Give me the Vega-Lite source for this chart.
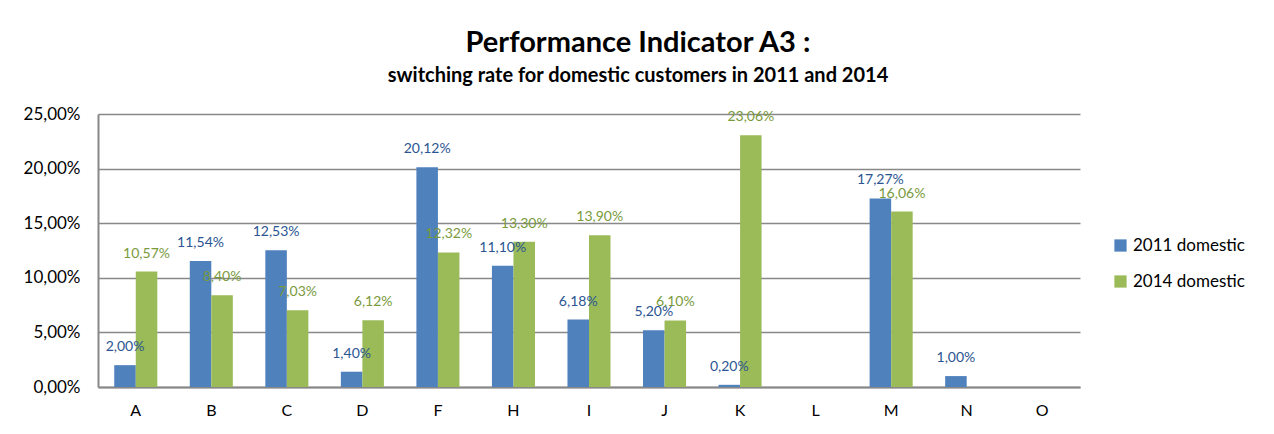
{
  "$schema": "https://vega.github.io/schema/vega-lite/v6.json",
  "autosize": {"type": "none"},
  "width": 982,
  "height": 273,
  "padding": {"left": 98, "top": 114, "right": 194, "bottom": 47},
  "background": "white",
  "config": {
    "locale": {"number": {"decimal": ",", "thousands": ".", "grouping": [3], "currency": ["", " €"]}},
    "font": "Lato",
    "view": {"stroke": null}
  },
  "title": {
    "text": "Performance Indicator A3 :",
    "subtitle": "switching rate for domestic customers in 2011 and 2014",
    "anchor": "middle",
    "dx": 49,
    "offset": 19,
    "font": "Lato",
    "fontSize": 29,
    "fontWeight": "bold",
    "color": "black",
    "subtitleFont": "Lato",
    "subtitleFontSize": 20,
    "subtitleFontWeight": "bold",
    "subtitleColor": "black",
    "subtitlePadding": 8
  },
  "data": {
    "values": [
      {"category": "A", "series": "2011 domestic", "value": 0.0200},
      {"category": "A", "series": "2014 domestic", "value": 0.1057},
      {"category": "B", "series": "2011 domestic", "value": 0.1154},
      {"category": "B", "series": "2014 domestic", "value": 0.0840},
      {"category": "C", "series": "2011 domestic", "value": 0.1253},
      {"category": "C", "series": "2014 domestic", "value": 0.0703},
      {"category": "D", "series": "2011 domestic", "value": 0.0140},
      {"category": "D", "series": "2014 domestic", "value": 0.0612},
      {"category": "F", "series": "2011 domestic", "value": 0.2012},
      {"category": "F", "series": "2014 domestic", "value": 0.1232},
      {"category": "H", "series": "2011 domestic", "value": 0.1110},
      {"category": "H", "series": "2014 domestic", "value": 0.1330},
      {"category": "I", "series": "2011 domestic", "value": 0.0618},
      {"category": "I", "series": "2014 domestic", "value": 0.1390},
      {"category": "J", "series": "2011 domestic", "value": 0.0520},
      {"category": "J", "series": "2014 domestic", "value": 0.0610},
      {"category": "K", "series": "2011 domestic", "value": 0.0020},
      {"category": "K", "series": "2014 domestic", "value": 0.2306},
      {"category": "M", "series": "2011 domestic", "value": 0.1727},
      {"category": "M", "series": "2014 domestic", "value": 0.1606},
      {"category": "N", "series": "2011 domestic", "value": 0.0100}
    ]
  },
  "encoding": {
    "x": {
      "field": "category",
      "type": "nominal",
      "scale": {"domain": ["A","B","C","D","F","H","I","J","K","L","M","N","O"], "paddingInner": 0.43, "paddingOuter": 0.215},
      "axis": {"title": null, "labelAngle": 0, "labelFontSize": 16, "labelColor": "black", "labelFont": "Lato", "ticks": false, "labelPadding": 15, "domainColor": "#888888", "domainWidth": 2}
    },
    "xOffset": {"field": "series", "type": "nominal", "scale": {"domain": ["2011 domestic", "2014 domestic"]}},
    "y": {
      "field": "value",
      "type": "quantitative",
      "scale": {"domain": [0, 0.25], "nice": false},
      "axis": {"title": null, "format": ".2%", "values": [0, 0.05, 0.1, 0.15, 0.2, 0.25], "labelFontSize": 17, "labelColor": "black", "labelFont": "Lato", "ticks": false, "labelPadding": 18, "domainColor": "#888888", "domainWidth": 2, "gridColor": "#888888", "gridWidth": 1.5}
    }
  },
  "layer": [
    {
      "mark": {"type": "bar"},
      "encoding": {
        "color": {
          "field": "series",
          "type": "nominal",
          "scale": {"domain": ["2011 domestic", "2014 domestic"], "range": ["#4F81BD", "#9BBB59"]},
          "legend": {"title": null, "orient": "none", "legendX": 1014, "legendY": 123, "symbolType": "square", "symbolSize": 150, "symbolStrokeWidth": 0, "labelFontSize": 17, "labelFont": "Lato", "labelColor": "black", "rowPadding": 18, "labelOffset": 4}
        }
      }
    },
    {
      "mark": {"type": "text", "baseline": "bottom", "dy": -11, "fontSize": 14, "font": "Lato"},
      "encoding": {
        "text": {"field": "value", "type": "quantitative", "format": ".2%"},
        "color": {
          "field": "series",
          "type": "nominal",
          "scale": {"domain": ["2011 domestic", "2014 domestic"], "range": ["#2B5592", "#7A9A3C"]},
          "legend": null
        }
      }
    }
  ],
  "resolve": {"scale": {"color": "independent"}}
}
